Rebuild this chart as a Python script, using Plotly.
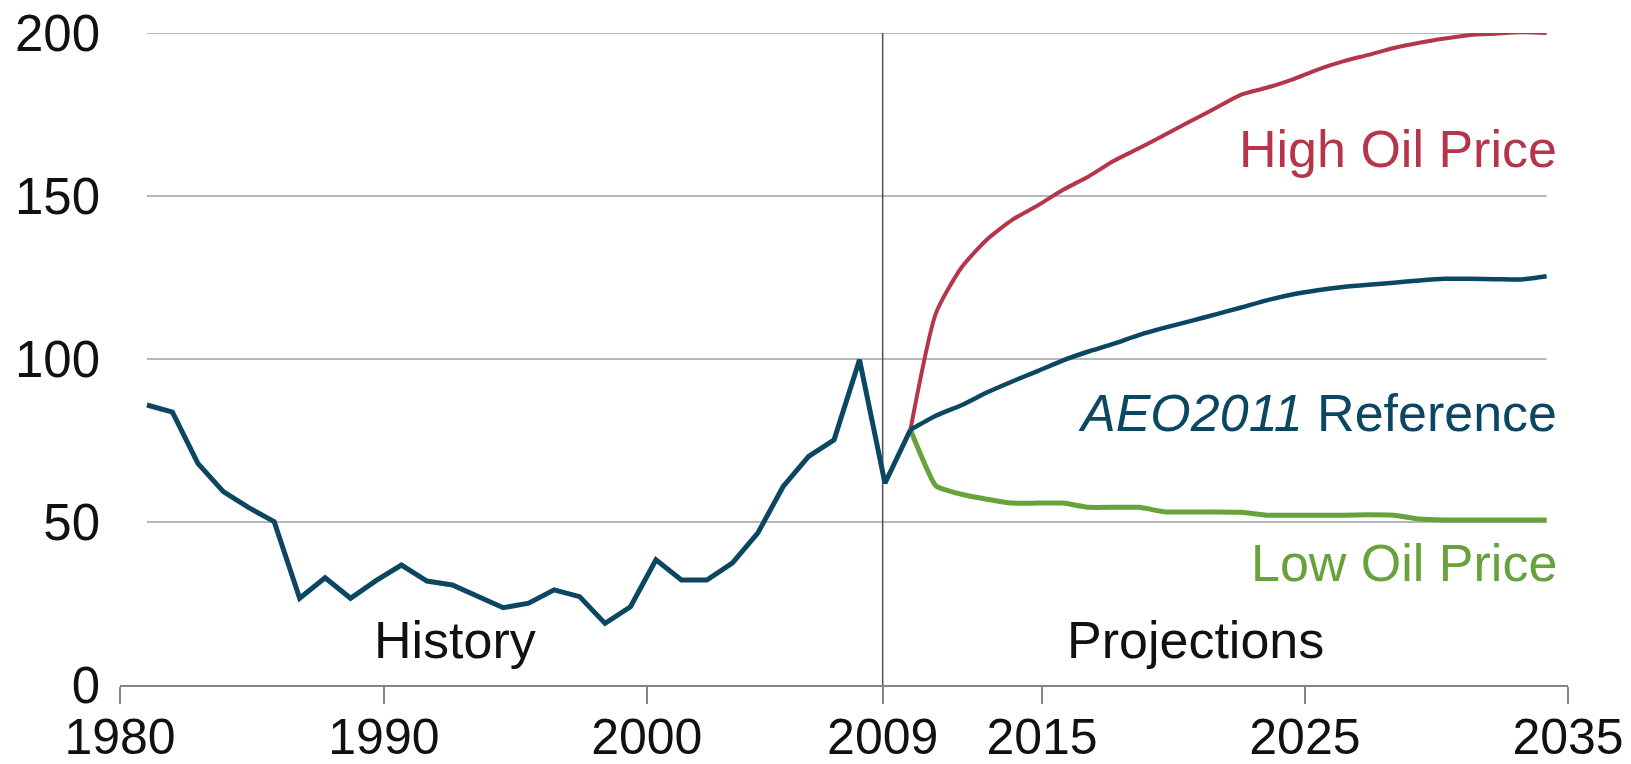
import plotly.graph_objects as go

# ---------------- data ----------------
hist_years = list(range(1980, 2010))
hist_price = [85.9, 83.7, 68.0, 59.3, 54.4, 50.1, 26.6, 32.9, 26.6, 32.0,
              36.8, 31.9, 30.7, 27.1, 23.7, 25.1, 29.2, 27.1, 18.9, 24.0,
              38.4, 32.2, 32.2, 37.4, 46.6, 60.9, 70.1, 75.2, 99.8, 61.9]

proj_years = list(range(2010, 2036))
reference = [78.3, 82.6, 85.8, 89.7, 93.1, 96.3, 99.6, 102.3, 104.7, 107.4,
             109.6, 111.6, 113.7, 115.8, 118.0, 119.8, 121.1, 122.1, 122.8, 123.4,
             124.1, 124.6, 124.6, 124.5, 124.4, 125.4]
high_price = [78.3, 114.0, 128.0, 136.6, 142.7, 147.1, 151.9, 156.0, 160.8, 164.7,
              168.8, 172.9, 177.0, 181.1, 183.2, 185.7, 188.8, 191.3, 193.3, 195.4,
              197.0, 198.3, 199.4, 199.8, 200.2, 200.0]
low_price = [78.3, 61.1, 58.5, 57.0, 55.8, 55.8, 55.8, 54.5, 54.5, 54.5,
             53.1, 53.1, 53.1, 53.0, 52.1, 52.1, 52.1, 52.1, 52.2, 52.1,
             50.9, 50.6, 50.6, 50.6, 50.6, 50.6]

x_tick_labels = ["1980", "1990", "2000", "2009", "2015", "2025", "2035"]
y_tick_values = [0, 50, 100, 150, 200]

# ---------------- style / placement ----------------
x_tick_positions = [1978.94, 1989.31, 1999.64, 2008.91, 2015.17, 2025.50, 2035.84]
x_range = [x_tick_positions[0], x_tick_positions[-1]]

DARK = "#0B4663"
RED = "#B5364A"
GREEN = "#67A23A"
FONT = "Liberation Sans, Arial, sans-serif"

fig = go.Figure()

fig.add_trace(go.Scatter(x=proj_years, y=high_price, mode="lines",
                         line=dict(color=RED, width=4, shape="spline", smoothing=0.6),
                         hoverinfo="skip"))
fig.add_trace(go.Scatter(x=proj_years, y=low_price, mode="lines",
                         line=dict(color=GREEN, width=5, shape="spline", smoothing=0.4),
                         hoverinfo="skip"))
fig.add_trace(go.Scatter(x=proj_years, y=reference, mode="lines",
                         line=dict(color=DARK, width=4.5, shape="spline", smoothing=0.6),
                         hoverinfo="skip"))
fig.add_trace(go.Scatter(x=hist_years + proj_years[:1], y=hist_price + reference[:1],
                         mode="lines", line=dict(color=DARK, width=5),
                         hoverinfo="skip"))

shapes = []
for v in y_tick_values[1:]:
    shapes.append(dict(type="line", xref="x", yref="y",
                       x0=hist_years[0], x1=proj_years[-1], y0=v, y1=v,
                       line=dict(color="#B8B8B8", width=2), layer="below"))
# history / projections divider at the 2009 tick
shapes.append(dict(type="line", xref="x", yref="y",
                   x0=x_tick_positions[3], x1=x_tick_positions[3],
                   y0=0, y1=y_tick_values[-1],
                   line=dict(color="#505050", width=1.5), layer="below"))

annotations = [
    dict(x=2035.5, y=164.5, text="High Oil Price", xanchor="right", yanchor="middle",
         font=dict(color=RED, size=52, family=FONT)),
    dict(x=2035.5, y=83.5, text="<i>AEO2011</i> Reference", xanchor="right", yanchor="middle",
         font=dict(color=DARK, size=52, family=FONT)),
    dict(x=2035.5, y=37.5, text="Low Oil Price", xanchor="right", yanchor="middle",
         font=dict(color=GREEN, size=52, family=FONT)),
    dict(x=1992.1, y=13.8, text="History", xanchor="center", yanchor="middle",
         font=dict(color="#111111", size=52, family=FONT)),
    dict(x=2021.2, y=13.8, text="Projections", xanchor="center", yanchor="middle",
         font=dict(color="#111111", size=52, family=FONT)),
]
for a in annotations:
    a.update(xref="x", yref="y", showarrow=False)

fig.update_layout(
    width=1631, height=764,
    margin=dict(l=120, r=63, t=33, b=79, autoexpand=False),
    paper_bgcolor="white", plot_bgcolor="white",
    showlegend=False,
    shapes=shapes, annotations=annotations,
    font=dict(family=FONT, color="#111111"),
)
fig.update_xaxes(range=x_range, tickmode="array", tickvals=x_tick_positions,
                 ticktext=x_tick_labels, showgrid=False, zeroline=False,
                 showline=True, linecolor="#858585", linewidth=2,
                 ticks="outside", ticklen=17, tickwidth=2, tickcolor="#858585",
                 automargin=False, ticklabelstandoff=-10,
                 tickfont=dict(size=50, family=FONT, color="#111111"))
fig.update_yaxes(range=[0, 200], tickmode="array", tickvals=y_tick_values,
                 showgrid=False, zeroline=False, showline=False, ticks="",
                 ticklabelstandoff=19, automargin=False,
                 tickfont=dict(size=51, family=FONT, color="#111111"))

fig.write_html("out.html")
